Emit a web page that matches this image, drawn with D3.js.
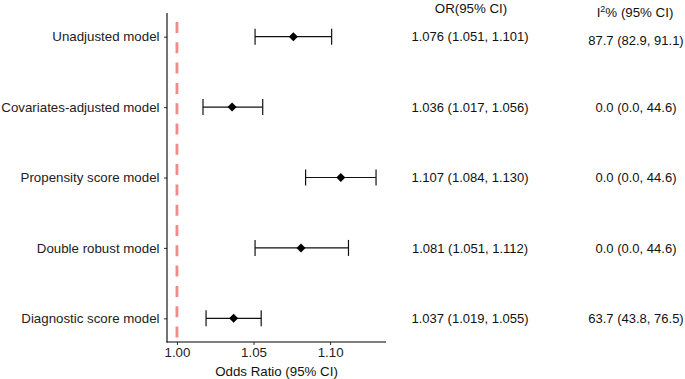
<!DOCTYPE html>
<html>
<head>
<meta charset="utf-8">
<script src="https://cdn.jsdelivr.net/npm/d3@7"></script>
<style>
  html, body { margin: 0; padding: 0; background: #fff; }
  svg { display: block; font-family: "Liberation Sans", Arial, Helvetica, sans-serif; }
</style>
</head>
<body>
<svg id="chart" width="685" height="379"></svg>
<script>
const models = ["Unadjusted model", "Covariates-adjusted model", "Propensity score model", "Double robust model", "Diagnostic score model"];
const orEst  = [1.076, 1.036, 1.107, 1.081, 1.037];
const ciLow  = [1.051, 1.017, 1.084, 1.051, 1.019];
const ciHigh = [1.101, 1.056, 1.130, 1.112, 1.055];
const orLabels = ["1.076 (1.051, 1.101)", "1.036 (1.017, 1.056)", "1.107 (1.084, 1.130)", "1.081 (1.051, 1.112)", "1.037 (1.019, 1.055)"];
const i2Labels = ["87.7 (82.9, 91.1)", "0.0 (0.0, 44.6)", "0.0 (0.0, 44.6)", "0.0 (0.0, 44.6)", "63.7 (43.8, 76.5)"];
const xTicks = [1.00, 1.05, 1.10];
const refValue = 1.00;

const svg = d3.select("#chart");
const panel = { left: 167, right: 386, top: 13, bottom: 342 };

const x = d3.scaleLinear().domain([0.9935, 1.1365]).range([panel.left, panel.right]);
const y = d3.scalePoint().domain(models).range([36.7, 318.3]);

// reference dashed line
svg.append("line")
  .attr("x1", x(refValue)).attr("x2", x(refValue))
  .attr("y1", panel.top).attr("y2", panel.bottom)
  .attr("stroke", "#F28A8A").attr("stroke-width", 2.8)
  .attr("stroke-dasharray", "11,9.3").attr("stroke-dashoffset", 11.3);

// y axis
const yAxis = svg.append("g").attr("transform", `translate(${panel.left},0)`)
  .call(d3.axisLeft(y).tickSize(3).tickPadding(4.5));
yAxis.select(".domain").remove();
yAxis.append("line").attr("x1", 0).attr("x2", 0).attr("y1", panel.top).attr("y2", panel.bottom + 0.5)
  .attr("stroke", "#000").attr("stroke-width", 1.1);
yAxis.selectAll(".tick line").attr("stroke", "#333");
yAxis.selectAll(".tick text").attr("fill", "#222").attr("font-size", 13.3).attr("font-family", "Liberation Sans, Arial, sans-serif");

// x axis
const xAxis = svg.append("g").attr("transform", `translate(0,${panel.bottom})`)
  .call(d3.axisBottom(x).tickValues(xTicks).tickFormat(d3.format(".2f")).tickSize(3).tickPadding(3));
xAxis.select(".domain").remove();
xAxis.append("line").attr("x1", panel.left - 0.5).attr("x2", panel.right).attr("y1", 0).attr("y2", 0)
  .attr("stroke", "#000").attr("stroke-width", 1.1);
xAxis.selectAll(".tick line").attr("stroke", "#333");
xAxis.selectAll(".tick text").attr("fill", "#222").attr("font-size", 13.3).attr("font-family", "Liberation Sans, Arial, sans-serif");

svg.append("text").attr("x", (panel.left + panel.right) / 2).attr("y", 376)
  .attr("text-anchor", "middle").attr("font-size", 13.3).attr("fill", "#111")
  .text("Odds Ratio (95% CI)");

// error bars
const rows = models.map((m, i) => ({ m, est: orEst[i], lo: ciLow[i], hi: ciHigh[i], orL: orLabels[i], i2L: i2Labels[i], i }));
const g = svg.append("g");
const cap = 8;
g.selectAll(".bar").data(rows).join("line")
  .attr("x1", d => x(d.lo)).attr("x2", d => x(d.hi))
  .attr("y1", d => y(d.m)).attr("y2", d => y(d.m))
  .attr("stroke", "#111").attr("stroke-width", 1.2);
g.selectAll(".capL").data(rows).join("line")
  .attr("x1", d => x(d.lo)).attr("x2", d => x(d.lo))
  .attr("y1", d => y(d.m) - cap).attr("y2", d => y(d.m) + cap)
  .attr("stroke", "#111").attr("stroke-width", 1.2);
g.selectAll(".capR").data(rows).join("line")
  .attr("x1", d => x(d.hi)).attr("x2", d => x(d.hi))
  .attr("y1", d => y(d.m) - cap).attr("y2", d => y(d.m) + cap)
  .attr("stroke", "#111").attr("stroke-width", 1.2);
g.selectAll(".pt").data(rows).join("path")
  .attr("d", d3.symbol(d3.symbolDiamond2, 52))
  .attr("transform", d => `translate(${x(d.est)},${y(d.m)})`)
  .attr("fill", "#000");

// text columns
const orX = 470, i2X = 636;
svg.append("text").attr("x", 471).attr("y", 12.5).attr("text-anchor", "middle")
  .attr("font-size", 13.3).attr("fill", "#111").text("OR(95% CI)");
const h2 = svg.append("text").attr("x", 635).attr("y", 16.5).attr("text-anchor", "middle")
  .attr("font-size", 13.3).attr("fill", "#111");
h2.append("tspan").text("I");
h2.append("tspan").attr("font-size", 9).attr("dy", -5).text("2");
h2.append("tspan").attr("dy", 5).text("% (95% CI)");

svg.selectAll(".orl").data(rows).join("text")
  .attr("x", orX).attr("y", d => y(d.m) + 4.6)
  .attr("text-anchor", "middle").attr("font-size", 13).attr("fill", "#111")
  .text(d => d.orL);
svg.selectAll(".i2l").data(rows).join("text")
  .attr("x", i2X).attr("y", d => y(d.m) + 4.6 + (d.i === 0 ? 4 : 0))
  .attr("text-anchor", "middle").attr("font-size", 13).attr("fill", "#111")
  .text(d => d.i2L);
</script>
</body>
</html>
